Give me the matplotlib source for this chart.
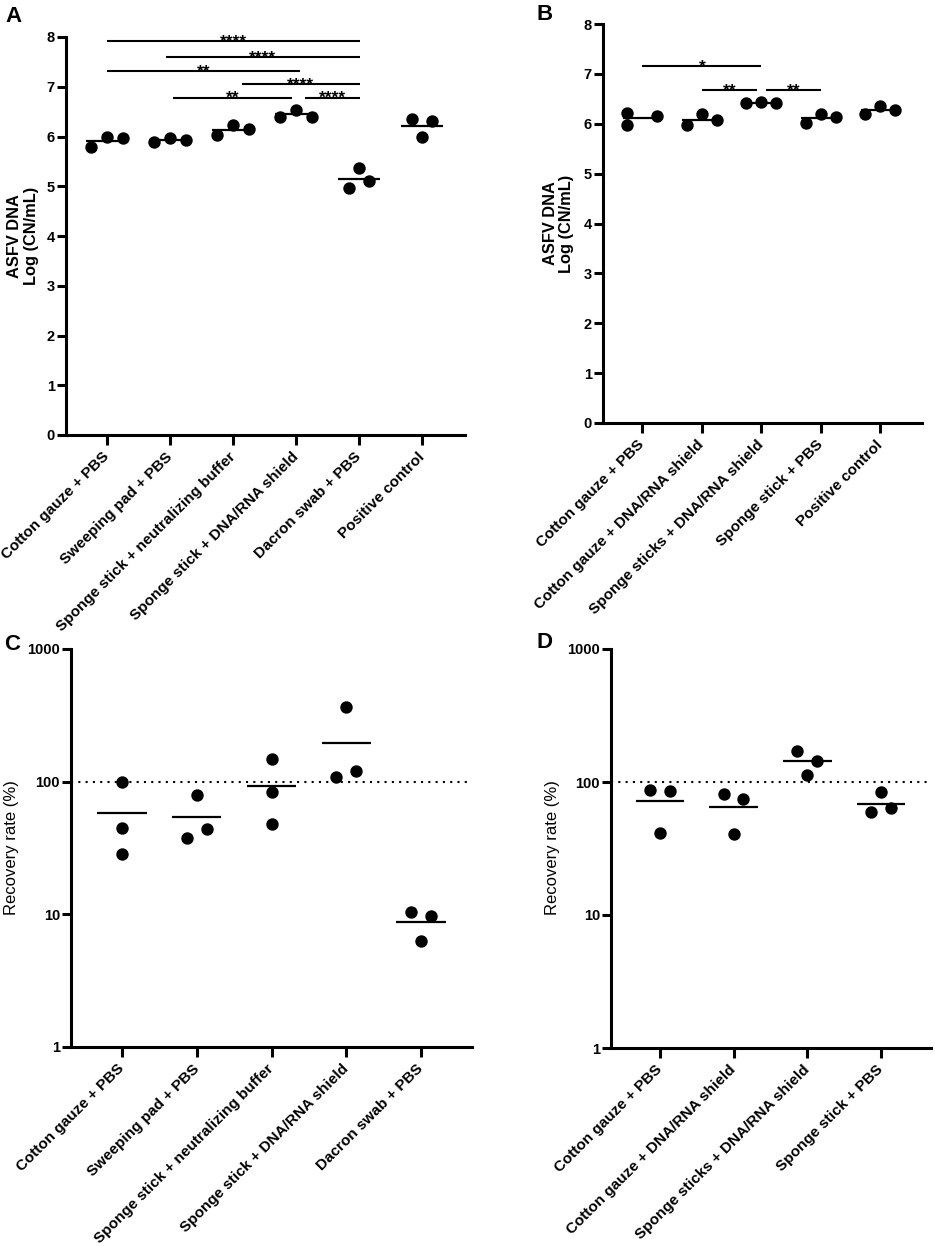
import matplotlib
matplotlib.use('Agg')
import matplotlib.pyplot as plt
import numpy as np

plt.rcParams['font.family'] = ['Liberation Sans', 'DejaVu Sans']

# ---------------- data ----------------
cats_A = ["Cotton gauze + PBS", "Sweeping pad + PBS", "Sponge stick + neutralizing buffer",
          "Sponge stick + DNA/RNA shield", "Dacron swab + PBS", "Positive control"]
vals_A = [[5.79, 5.98, 5.96],
          [5.88, 5.96, 5.92],
          [6.03, 6.24, 6.15],
          [6.39, 6.54, 6.40],
          [4.97, 5.37, 5.11],
          [6.35, 5.98, 6.31]]
sig_A = [(0, 4, "****"), (1, 4, "****"), (0, 3, "**"), (2, 4, "****"), (1, 3, "**"), (3, 4, "****")]
sig_A_y = [7.92, 7.59, 7.32, 7.05, 6.78, 6.78]

cats_B = ["Cotton gauze + PBS", "Cotton gauze + DNA/RNA shield", "Sponge sticks + DNA/RNA shield",
          "Sponge stick + PBS", "Positive control"]
vals_B = [[6.21, 5.98, 6.15],
          [5.97, 6.19, 6.07],
          [6.41, 6.43, 6.42],
          [6.01, 6.19, 6.13],
          [6.19, 6.35, 6.27]]
sig_B = [(0, 2, "*"), (1, 2, "**"), (2, 3, "**")]
sig_B_y = [7.16, 6.68, 6.68]

cats_C = ["Cotton gauze + PBS", "Sweeping pad + PBS", "Sponge stick + neutralizing buffer",
          "Sponge stick + DNA/RNA shield", "Dacron swab + PBS"]
vals_C = [[100.0, 44.5, 28.3],
          [79.8, 37.4, 44.0],
          [148.0, 83.1, 47.7],
          [363.0, 109.0, 120.0],
          [10.35, 9.77, 6.34]]

cats_D = ["Cotton gauze + PBS", "Cotton gauze + DNA/RNA shield", "Sponge sticks + DNA/RNA shield",
          "Sponge stick + PBS"]
vals_D = [[87.6, 86.0, 41.0],
          [81.2, 74.0, 40.8],
          [172.0, 144.0, 112.0],
          [83.6, 59.1, 63.7]]

# ---------------- layout / style ----------------
# horizontal point spreads (style of the scatter, per group)
off_A = [[-0.26, 0.0, 0.26]] * 4 + [[-0.16, 0.0, 0.16]] * 2
off_B = [[-0.26, -0.26, 0.24]] + [[-0.25, 0.0, 0.25]] * 4
off_C = [[0, 0, 0], [0, -0.13, 0.14], [0, 0, 0], [0, -0.135, 0.135], [-0.135, 0.135, 0]]
off_D = [[-0.135, 0.135, 0], [-0.135, 0.13, 0], [-0.14, 0.135, 0], [0, -0.135, 0.135]]

W, H = 935, 1246
fig = plt.figure(figsize=(W / 100, H / 100), dpi=100)
fig.patch.set_facecolor('white')

LW = 2.2


def add_ax(l, t, r, b):
    return fig.add_axes([l / W, 1 - b / H, (r - l) / W, (b - t) / H])


def style(ax, cats, xlim):
    for s in ['top', 'right']:
        ax.spines[s].set_visible(False)
    for s in ['left', 'bottom']:
        ax.spines[s].set_linewidth(LW)
    ax.set_xlim(*xlim)
    ax.set_xticks(range(len(cats)))
    ax.set_xticklabels(cats, rotation=45, ha='right', va='center',
                       rotation_mode='anchor', fontsize=11, fontweight='bold')
    ax.tick_params(axis='x', length=7, width=LW, pad=7)
    ax.tick_params(axis='y', length=6.5, width=LW, pad=1.5, labelsize=10.5)
    for lab in ax.get_yticklabels():
        lab.set_fontweight('bold')


def scatter_group(ax, vals, offs):
    for i, (v, o) in enumerate(zip(vals, offs)):
        x = [i + d for d in o]
        ax.scatter(x, v, s=80, color='black', zorder=3, clip_on=False, linewidths=0)
        m = np.mean(v)
        ax.hlines(m, i - 0.33, i + 0.33, color='black', lw=1.6, zorder=2)


def sig_bars(ax, sigs, ys, trims):
    for (a, b, lab), y, (ta, tb) in zip(sigs, ys, trims):
        x0, x1 = a + ta, b + tb
        ax.plot([x0, x1], [y, y], color='black', lw=1.5, solid_capstyle='butt')
        ax.annotate(lab, xy=((x0 + x1) / 2, y), xytext=(0, -4), textcoords='offset points',
                    ha='center', va='baseline', fontsize=12.5, fontweight='bold')


# ---- Panel A ----
axA = add_ax(66, 37, 465, 435)
scatter_group(axA, vals_A, off_A)
axA.set_ylim(0, 8)
axA.set_yticks(range(0, 9))
style(axA, cats_A, (-0.65, 5.68))
sig_bars(axA, sig_A, sig_A_y,
         [(0, 0.01), (-0.07, 0.01), (0, 0.06), (0.14, 0.01), (0.05, -0.06), (0.14, 0.01)])

# ---- Panel B ----
axB = add_ax(603, 24, 922, 423)
scatter_group(axB, vals_B, off_B)
axB.set_ylim(0, 8)
axB.set_yticks(range(0, 9))
style(axB, cats_B, (-0.66, 4.70))
sig_bars(axB, sig_B, sig_B_y, [(0, 0), (0, -0.07), (0.08, 0)])

# ---- Panel C ----
axC = add_ax(71, 649, 472, 1047)
axC.set_yscale('log')
axC.set_ylim(1, 1000)
scatter_group(axC, vals_C, off_C)
axC.axhline(100, color='black', lw=1.5, linestyle=(0, (1, 2.5)), zorder=1)
style(axC, cats_C, (-0.68, 4.68))
axC.set_yticks([1, 10, 100, 1000])
axC.set_yticklabels(['1', '10', '100', '1000'], fontweight='bold', fontsize=10.5)
axC.yaxis.set_minor_locator(matplotlib.ticker.NullLocator())

# ---- Panel D ----
axD = add_ax(611, 649, 931, 1048)
axD.set_yscale('log')
axD.set_ylim(1, 1000)
scatter_group(axD, vals_D, off_D)
axD.axhline(100, color='black', lw=1.5, linestyle=(0, (1, 2.5)), zorder=1)
style(axD, cats_D, (-0.667, 3.68))
axD.set_yticks([1, 10, 100, 1000])
axD.set_yticklabels(['1', '10', '100', '1000'], fontweight='bold', fontsize=10.5)
axD.yaxis.set_minor_locator(matplotlib.ticker.NullLocator())


def ftext(x, y, s, **kw):
    fig.text(x / W, 1 - y / H, s, **kw)


# panel letters
for (x, y, s) in [(13, 16, 'A'), (545, 15, 'B'), (12, 644, 'C'), (545, 643, 'D')]:
    ftext(x, y, s, fontsize=16, fontweight='bold', ha='center', va='center')

# y labels
ftext(23, 236, "ASFV DNA\nLog (CN/mL)", rotation=90, ha='center', va='center',
      fontsize=11.8, fontweight='bold', multialignment='center', linespacing=1.15)
ftext(558.5, 223.5, "ASFV DNA\nLog (CN/mL)", rotation=90, ha='center', va='center',
      fontsize=11.8, fontweight='bold', multialignment='center', linespacing=1.15)
ftext(12, 848, "Recovery rate (%)", rotation=90, ha='center', va='center', fontsize=12)
ftext(552, 848, "Recovery rate (%)", rotation=90, ha='center', va='center', fontsize=12)

fig.savefig('out.png', dpi=100, facecolor='white')
